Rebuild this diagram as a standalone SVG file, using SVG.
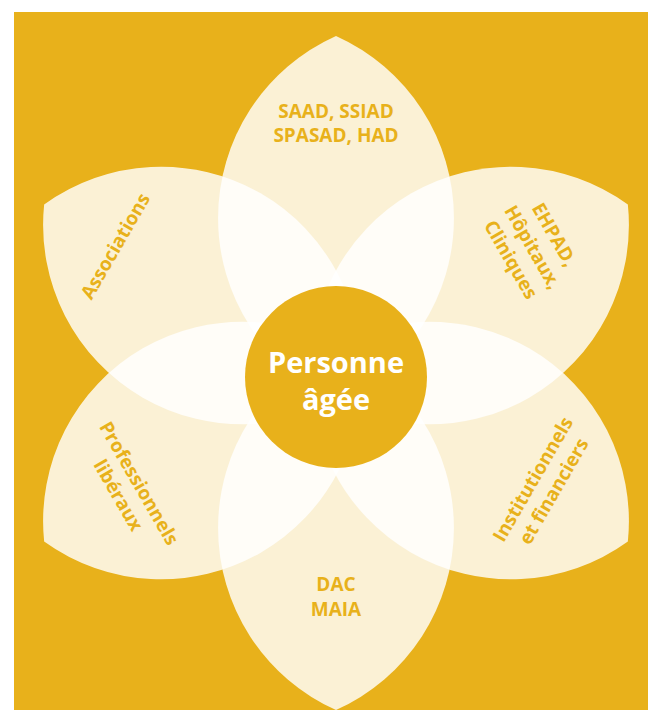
<svg xmlns="http://www.w3.org/2000/svg" width="648" height="710" viewBox="0 0 648 710">
  <style>
    .petal { fill: #FFFFFF; fill-opacity: 0.82; }
    .lbl { font-family: "Open Sans", "Noto Sans", "Liberation Sans", sans-serif; font-weight: 700; font-size: 19px; fill: #E8B11B; text-anchor: middle; }
    .ctr { font-family: "Open Sans", "Noto Sans", "Liberation Sans", sans-serif; font-weight: 700; font-size: 29px; fill: #FFFFFF; text-anchor: middle; }
  </style>
  <defs>
    <path id="petalShape" d="M 0 -337 A 199.4 199.4 0 0 1 0 27 A 199.4 199.4 0 0 1 0 -337 Z"/>
  </defs>
  <rect x="14" y="12" width="634" height="698" fill="#E8B11B"/>
  <g id="connectors"></g>
  <g id="petals" transform="translate(336,373)">
    <use id="petal-top" class="petal" href="#petalShape"/>
    <use id="petal-upper-right" class="petal" href="#petalShape" transform="rotate(60)"/>
    <use id="petal-lower-right" class="petal" href="#petalShape" transform="rotate(120)"/>
    <use id="petal-bottom" class="petal" href="#petalShape" transform="rotate(180)"/>
    <use id="petal-lower-left" class="petal" href="#petalShape" transform="rotate(240)"/>
    <use id="petal-upper-left" class="petal" href="#petalShape" transform="rotate(300)"/>
  </g>
  <g id="node-saad">
    <text class="lbl" x="336" y="118">SAAD, SSIAD</text>
    <text class="lbl" x="336" y="142">SPASAD, HAD</text>
  </g>
  <g id="node-ehpad" transform="translate(533,247) rotate(60)">
    <text class="lbl" x="0" y="-18">EHPAD,</text>
    <text class="lbl" x="0" y="7">Hôpitaux,</text>
    <text class="lbl" x="0" y="32">Cliniques</text>
  </g>
  <g id="node-institutionnels" transform="translate(543,485) rotate(-60)">
    <text class="lbl" x="0" y="-5">Institutionnels</text>
    <text class="lbl" x="0" y="19">et financiers</text>
  </g>
  <g id="node-dac">
    <text class="lbl" x="336" y="591">DAC</text>
    <text class="lbl" x="336" y="616">MAIA</text>
  </g>
  <g id="node-professionnels" transform="translate(129,489) rotate(60)">
    <text class="lbl" x="0" y="-5">Professionnels</text>
    <text class="lbl" x="0" y="19">libéraux</text>
  </g>
  <g id="node-associations" transform="translate(115,246) rotate(-60)">
    <text class="lbl" x="0" y="7">Associations</text>
  </g>
  <g id="node-center">
    <circle cx="336" cy="377" r="91" fill="#E8B11B"/>
    <text class="ctr" x="336" y="373">Personne</text>
    <text class="ctr" x="336" y="410">âgée</text>
  </g>
</svg>
